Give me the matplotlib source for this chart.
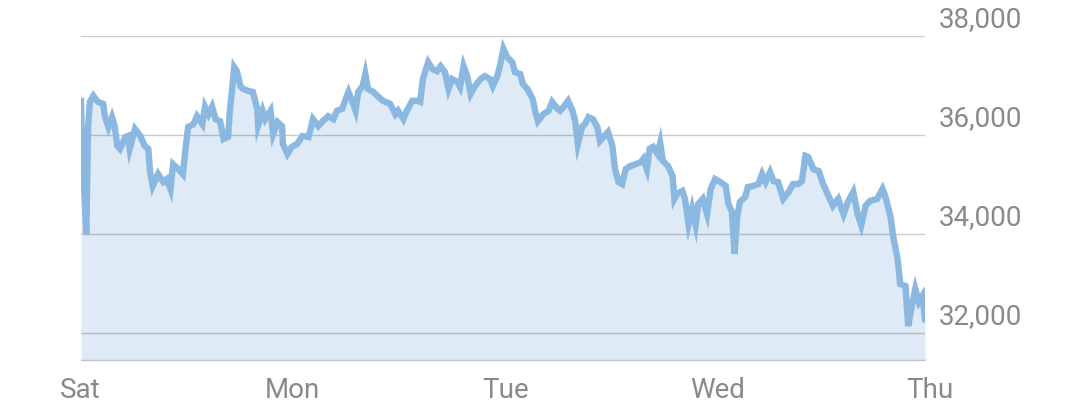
import matplotlib
matplotlib.use("Agg")
import matplotlib.pyplot as plt

# hours since Saturday 00:00
hours = [0.1, 0.2, 0.7, 0.9, 1.1, 1.5, 2.0, 2.6, 2.8, 3.2, 3.6, 3.9, 4.2, 4.5, 5.1, 5.4, 5.6, 6.2, 6.8, 7.3,
         7.7, 7.9, 8.2, 8.8, 9.4, 9.8, 10.2, 10.5, 11.1, 11.6, 11.9, 12.2, 12.8, 13.2, 13.8, 14.1, 14.5, 14.9, 15.3, 15.8,
         16.2, 16.7, 16.9, 17.2, 17.4, 17.7, 18.1, 18.4, 19.0, 19.5, 20.0, 20.1, 20.6, 20.9, 21.5, 21.8, 22.3, 22.8, 22.9, 23.4,
         23.9, 24.5, 25.1, 25.8, 26.3, 26.9, 27.4, 28.0, 28.6, 29.0, 29.6, 29.9, 30.3, 30.7, 31.1, 31.4, 31.9, 32.2, 32.5, 33.1,
         33.7, 34.2, 35.0, 35.6, 35.9, 36.5, 36.9, 37.5, 38.1, 38.4, 38.7, 39.3, 39.8, 40.3, 40.7, 41.2, 41.6, 42.0, 42.6, 42.9,
         43.3, 43.7, 44.1, 44.6, 45.2, 45.7, 46.3, 46.6, 47.1, 47.4, 47.8, 48.2, 48.8, 49.1, 49.7, 50.0, 50.5, 51.1, 51.4, 51.7,
         52.3, 52.9, 53.3, 53.9, 54.2, 54.6, 55.1, 55.6, 55.9, 56.2, 56.7, 57.0, 57.4, 57.9, 58.4, 58.7, 59.1, 59.6, 60.1, 60.4,
         60.8, 61.2, 61.6, 62.1, 62.7, 63.3, 63.6, 64.0, 64.3, 64.7, 65.2, 65.5, 65.8, 66.4, 66.9, 67.1, 67.4, 68.0, 68.3, 68.7,
         69.1, 69.5, 69.8, 70.3, 70.8, 71.2, 71.7, 72.3, 72.9, 73.2, 73.6, 73.9, 74.2, 74.5, 75.1, 75.4, 76.0, 76.6, 77.0, 77.4,
         77.9, 78.3, 78.8, 79.4, 80.0, 80.5, 81.1, 81.5, 81.9, 82.2, 82.8, 83.4, 83.9, 84.5, 85.0, 85.6, 86.2, 86.7, 87.3, 87.8,
         88.2, 88.7, 89.2, 90.0, 90.6, 90.9, 91.5, 91.8, 92.3, 92.6, 93.2, 93.5, 94.0, 94.3, 94.7, 95.1, 95.4]

price = [36690, 35920, 34000, 36160, 36670, 36790, 36670, 36630, 36380, 36160, 36360, 36180, 35780, 35720, 35960, 35980, 35720, 36120, 35980, 35780,
         35720, 35250, 34970, 35210, 35050, 35110, 34910, 35410, 35310, 35210, 35720, 36160, 36220, 36380, 36220, 36570, 36420, 36570, 36320, 36280,
         35920, 35960, 36470, 36990, 37370, 37290, 36990, 36930, 36890, 36870, 36530, 36200, 36490, 36320, 36490, 36020, 36260, 36180, 35820, 35620,
         35760, 35820, 35980, 35960, 36320, 36180, 36280, 36380, 36320, 36490, 36530, 36690, 36870, 36690, 36490, 36870, 36990, 37230, 36930, 36870,
         36770, 36690, 36630, 36420, 36490, 36320, 36490, 36690, 36690, 36670, 37130, 37470, 37330, 37290, 37390, 37270, 36930, 37130, 37070, 36970,
         37390, 37190, 36830, 36990, 37130, 37190, 37130, 36990, 37190, 37390, 37740, 37580, 37470, 37270, 37230, 37030, 36930, 36730, 36470, 36280,
         36420, 36490, 36670, 36530, 36490, 36570, 36690, 36490, 36280, 35820, 36180, 36220, 36360, 36320, 36160, 35880, 35960, 36060, 35780, 35310,
         35050, 35010, 35310, 35370, 35410, 35450, 35520, 35310, 35720, 35760, 35620, 35840, 35480, 35370, 35170, 34710, 34810, 34870, 34710, 34200,
         34510, 34180, 34610, 34710, 34400, 34910, 35110, 35050, 34970, 34610, 34450, 33600, 34360, 34650, 34750, 34950, 34970, 35010, 35210, 35050,
         35250, 35070, 35050, 34710, 34850, 35010, 35010, 35070, 35580, 35560, 35310, 35270, 35010, 34770, 34570, 34710, 34400, 34650, 34850, 34400,
         34180, 34570, 34670, 34710, 34910, 34770, 34360, 33960, 33500, 32990, 32950, 32140, 32630, 32890, 32630, 32750, 32280]

day_labels = ["Sat", "Mon", "Tue", "Wed", "Thu"]
day_hours = [0, 24, 48, 72, 96]
y_ticks = [32000, 34000, 36000, 38000]

LINE = "#8ab8e1"
FILL = "#deeaf5"
TEXT = "#898989"
FONT = ["Roboto", "DejaVu Sans"]

fig = plt.figure(figsize=(10.8, 4.02), dpi=100)
ax = fig.add_axes([81 / 1080, 1 - 361 / 402, (925 - 81) / 1080, (361 - 37) / 402])

ax.fill_between(hours, price, 31455, color=FILL, lw=0, zorder=1)
for v in y_ticks:
    ax.axhline(v, color="black", alpha=0.2, lw=1, zorder=2)
ax.plot(hours, price, color=LINE, lw=4.6, solid_joinstyle="miter", zorder=3)

ax.set_xlim(hours[0], hours[-1])
ax.set_ylim(31455, 38000)

for s in ["top", "left", "right"]:
    ax.spines[s].set_visible(False)
ax.spines["bottom"].set_color("black")
ax.spines["bottom"].set_alpha(0.2)
ax.spines["bottom"].set_linewidth(1)
ax.set_xticks([])
ax.set_yticks([])
ax.patch.set_alpha(0)

for v in y_ticks:
    ax.annotate(f"{v:,}", xy=(1, v), xycoords=("axes fraction", "data"),
                xytext=(14, 10), textcoords="offset pixels",
                ha="left", va="baseline", fontsize=20, color=TEXT,
                family=FONT, annotation_clip=False)

for lab, h in zip(day_labels, day_hours):
    ax.annotate(lab, xy=(h, 0), xycoords=("data", "axes fraction"),
                xytext=(0, -37), textcoords="offset pixels",
                ha="center", va="baseline", fontsize=20, color=TEXT,
                family=FONT, annotation_clip=False)

fig.savefig("out.png", dpi=100)
